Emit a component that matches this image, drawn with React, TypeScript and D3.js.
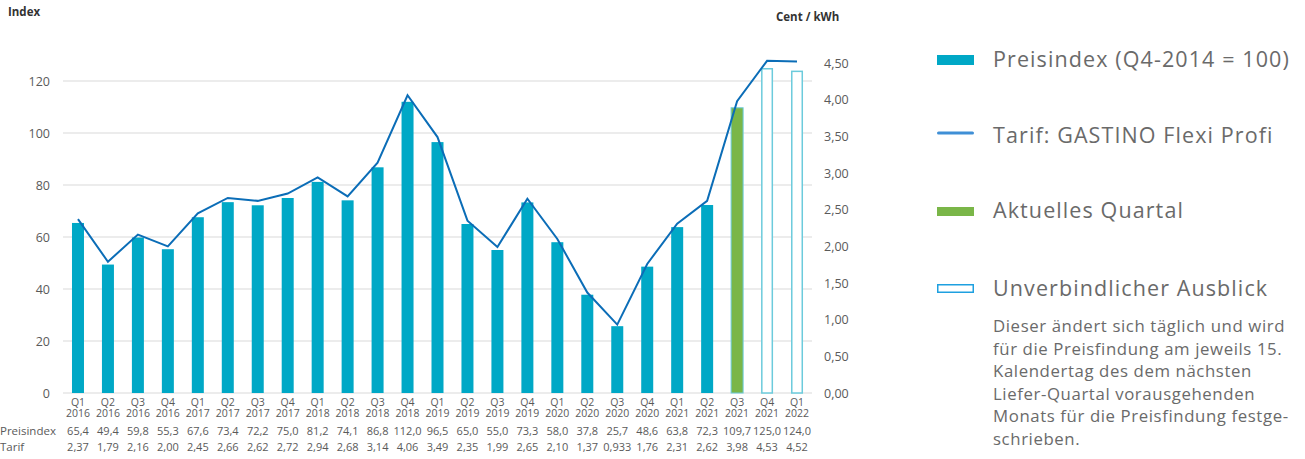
import React from "react";
import * as d3 from "d3";

const quarters = ["Q1","Q2","Q3","Q4","Q1","Q2","Q3","Q4","Q1","Q2","Q3","Q4","Q1","Q2","Q3","Q4","Q1","Q2","Q3","Q4","Q1","Q2","Q3","Q4","Q1"];
const years = ["2016","2016","2016","2016","2017","2017","2017","2017","2018","2018","2018","2018","2019","2019","2019","2019","2020","2020","2020","2020","2021","2021","2021","2021","2022"];
const preisindex = [65.4,49.4,59.8,55.3,67.6,73.4,72.2,75.0,81.2,74.1,86.8,112.0,96.5,65.0,55.0,73.3,58.0,37.8,25.7,48.6,63.8,72.3,109.7,125.0,124.0];
const tarif = [2.37,1.79,2.16,2.00,2.45,2.66,2.62,2.72,2.94,2.68,3.14,4.06,3.49,2.35,1.99,2.65,2.10,1.37,0.933,1.76,2.31,2.62,3.98,4.53,4.52];
// "actual" = regular, "current" = current quarter, "outlook" = non-binding outlook
const status = ["actual","actual","actual","actual","actual","actual","actual","actual","actual","actual","actual","actual","actual","actual","actual","actual","actual","actual","actual","actual","actual","actual","current","outlook","outlook"];
const leftTicks = [0, 20, 40, 60, 80, 100, 120];
const rightTicks = [0, 0.5, 1, 1.5, 2, 2.5, 3, 3.5, 4, 4.5];
const legendItems = ["Preisindex (Q4-2014 = 100)", "Tarif: GASTINO Flexi Profi", "Aktuelles Quartal", "Unverbindlicher Ausblick"];
const noteLines = [
  "Dieser ändert sich täglich und wird",
  "für die Preisfindung am jeweils 15.",
  "Kalendertag des dem nächsten",
  "Liefer-Quartal vorausgehenden",
  "Monats für die Preisfindung festge-",
  "schrieben.",
];

const FONT = "'Open Sans', 'Noto Sans', sans-serif";
const BAR = "#00a8c6";
const LINE = "#0b6db7";
const GREEN = "#7ab648";
const OUTLINE = "#6ccbdc";
const TEXT = "#5a5a5a";
const GRID = "#d9d9d9";

const fmt1 = (v: number) => v.toFixed(1).replace(".", ",");
const fmtT = (v: number) => (v < 1 ? v.toFixed(3) : v.toFixed(2)).replace(".", ",");
const fmtR = (v: number) => v.toFixed(2).replace(".", ",");

export default function App() {
  const x0 = 63, x1 = 812, yBottom = 393, yTop = 63;
  const x = d3.scaleBand<number>().domain(d3.range(quarters.length)).range([x0, x1]).paddingInner(0).paddingOuter(0);
  const yL = d3.scaleLinear().domain([0, 330 / 2.6]).range([yBottom, yTop]);
  const yR = d3.scaleLinear().domain([0, 4.5]).range([yBottom, yTop]);
  const bw = 12;
  const cx = (i: number) => (x(i) as number) + x.bandwidth() / 2;

  const line = d3.line<number>().x((_, i) => cx(i)).y((d) => yR(d));

  const legendY = [60, 136, 211, 289];

  return (
    <svg width={1305} height={459} style={{ position: "absolute", left: 0, top: 0, display: "block", background: "#fff" }} fontFamily={FONT}>
      {/* titles */}
      <text x={8} y={16} fontSize={11.5} fontWeight={700} fill="#333">Index</text>
      <text x={776} y={21} fontSize={11.5} fontWeight={700} fill="#333">Cent / kWh</text>

      {/* gridlines */}
      {leftTicks.map((t) => (
        <line key={t} x1={x0} x2={x1} y1={yL(t)} y2={yL(t)} stroke={GRID} strokeWidth={1} />
      ))}
      {leftTicks.map((t) => (
        <text key={"l" + t} x={50} y={yL(t) + 4.5} textAnchor="end" fontSize={12.5} fill={TEXT}>{t}</text>
      ))}
      {rightTicks.map((t) => (
        <text key={"r" + t} x={824} y={yR(t) + 4.5} textAnchor="start" fontSize={12.5} fill={TEXT}>{fmtR(t)}</text>
      ))}

      {/* bars */}
      {preisindex.map((v, i) => {
        const s = status[i];
        const bx = cx(i) - bw / 2;
        const by = yL(v);
        const h = yBottom - by;
        if (s === "outlook") {
          return <rect key={i} x={bx + 0.75} y={by + 0.75} width={bw - 1.5} height={h - 0.75} fill="#fff" stroke={OUTLINE} strokeWidth={1.5} />;
        }
        return <rect key={i} x={bx} y={by} width={bw} height={h} fill={s === "current" ? GREEN : BAR} stroke={s === "current" ? OUTLINE : "none"} strokeWidth={s === "current" ? 1 : 0} />;
      })}

      {/* line */}
      <path d={line(tarif) as string} fill="none" stroke={LINE} strokeWidth={2} strokeLinejoin="miter" />

      {/* category labels & table */}
      {quarters.map((q, i) => (
        <g key={"c" + i} fontSize={10.5} fill={TEXT} textAnchor="middle">
          <text x={cx(i)} y={405.5}>{q}</text>
          <text x={cx(i)} y={417}>{years[i]}</text>
          <text x={cx(i)} y={435} fontSize={11}>{fmt1(preisindex[i])}</text>
          <text x={cx(i)} y={451} fontSize={11}>{fmtT(tarif[i])}</text>
        </g>
      ))}
      <text x={0} y={435} fontSize={11.5} fill={TEXT}>Preisindex</text>
      <text x={0} y={451} fontSize={11.5} fill={TEXT}>Tarif</text>

      {/* legend */}
      <rect x={937} y={legendY[0] - 5} width={37} height={10} fill={BAR} />
      <line x1={938.5} x2={972.5} y1={legendY[1] - 3} y2={legendY[1] - 3} stroke="#3f8fd6" strokeWidth={3} strokeLinecap="round" />
      <rect x={937} y={legendY[2] - 4} width={37} height={9} fill={GREEN} />
      <rect x={937.75} y={legendY[3] - 4.25} width={35.5} height={7.5} fill="#fff" stroke="#1ea0e0" strokeWidth={1.5} />
      {legendItems.map((t, i) => (
        <text key={"lg" + i} x={993} y={legendY[i] + 7} fontSize={21.5} letterSpacing={1.1} fill="#6a6a6a">{t}</text>
      ))}
      {noteLines.map((t, i) => (
        <text key={"n" + i} x={993} y={332 + i * 22.5} fontSize={16.8} letterSpacing={0.6} fill="#6a6a6a">{t}</text>
      ))}
    </svg>
  );
}
